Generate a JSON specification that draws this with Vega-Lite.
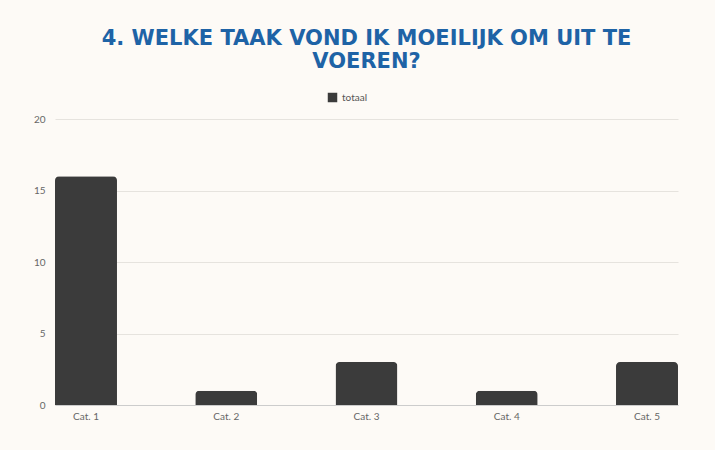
{
  "$schema": "https://vega.github.io/schema/vega-lite/v6.json",
  "width": 623,
  "height": 286,
  "autosize": {"type": "none"},
  "padding": {"left": 55, "top": 119, "right": 37, "bottom": 45},
  "background": "#fdfaf6",
  "title": {
    "text": ["4. WELKE TAAK VOND IK MOEILIJK OM UIT TE", "VOEREN?"],
    "font": "DejaVu Sans",
    "fontWeight": "bold",
    "fontSize": 21,
    "color": "#1e63a6",
    "anchor": "middle",
    "lineHeight": 23,
    "offset": 20
  },
  "data": {
    "values": [
      {"categorie": "Cat. 1", "waarde": 16, "serie": "totaal"},
      {"categorie": "Cat. 2", "waarde": 1, "serie": "totaal"},
      {"categorie": "Cat. 3", "waarde": 3, "serie": "totaal"},
      {"categorie": "Cat. 4", "waarde": 1, "serie": "totaal"},
      {"categorie": "Cat. 5", "waarde": 3, "serie": "totaal"}
    ]
  },
  "mark": {"type": "bar", "cornerRadiusTopLeft": 4, "cornerRadiusTopRight": 4},
  "encoding": {
    "x": {
      "field": "categorie",
      "type": "nominal",
      "sort": null,
      "scale": {"paddingInner": 0.558, "paddingOuter": 0},
      "axis": {
        "title": null,
        "labelAngle": 0,
        "labelFont": "Lato",
        "labelFontSize": 10,
        "labelColor": "#666666",
        "ticks": false,
        "domainColor": "#cccccc",
        "labelPadding": 6
      }
    },
    "y": {
      "field": "waarde",
      "type": "quantitative",
      "scale": {"domain": [0, 20]},
      "axis": {
        "title": null,
        "values": [0, 5, 10, 15, 20],
        "labelFont": "Lato",
        "labelFontSize": 10,
        "labelColor": "#666666",
        "ticks": false,
        "domain": false,
        "gridColor": "#e6e3de",
        "labelPadding": 10
      }
    },
    "color": {
      "field": "serie",
      "type": "nominal",
      "scale": {"domain": ["totaal"], "range": ["#3b3b3b"]},
      "legend": {
        "title": null,
        "orient": "none",
        "legendX": 272,
        "legendY": -27,
        "direction": "horizontal",
        "symbolType": "square",
        "symbolSize": 90,
        "labelFont": "Lato",
        "labelFontSize": 10,
        "labelColor": "#555555"
      }
    }
  },
  "config": {"view": {"stroke": null}}
}
